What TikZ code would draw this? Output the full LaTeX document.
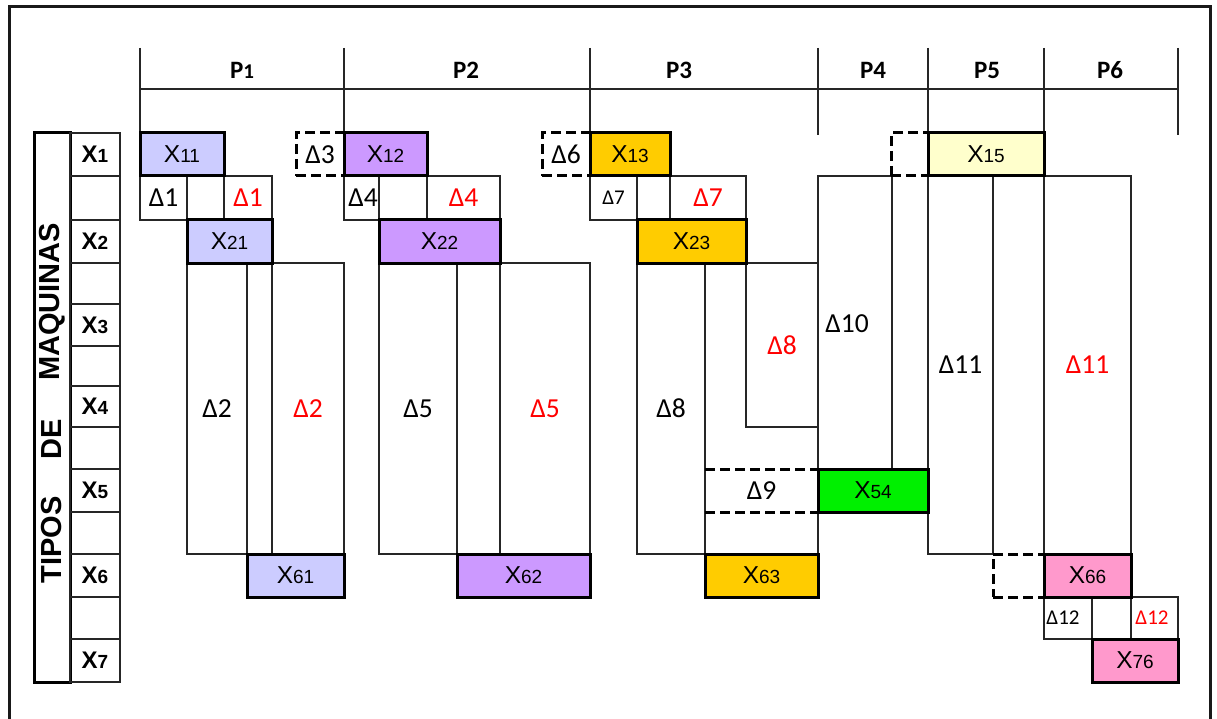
\documentclass[tikz,border=0pt]{standalone}
\usepackage{fontspec}
\setmainfont{Carlito}
\newfontfamily\arialfont{Liberation Sans}

\definecolor{jobA}{HTML}{CCCCFF}
\definecolor{jobB}{HTML}{CC99FF}
\definecolor{jobC}{HTML}{FFCC00}
\definecolor{jobD}{HTML}{00F000}
\definecolor{jobE}{HTML}{FFFFCC}
\definecolor{jobF}{HTML}{FF99CC}

% text faces
\newcommand{\dfnt}{\fontsize{27.5}{27.5}\selectfont}
\newcommand{\dfnts}{\fontsize{21}{21}\selectfont}
\newcommand{\pfnt}{\bfseries\fontsize{25}{25}\selectfont}
\newcommand{\tipfnt}{\arialfont\bfseries\fontsize{29}{29}\selectfont}
\newcommand{\jobtxt}[1]{{\arialfont\fontsize{24.5}{24.5}\selectfont X\fontsize{19}{19}\selectfont #1}}
\newcommand{\rowtxt}[1]{{\arialfont\bfseries\fontsize{24}{24}\selectfont X\fontsize{19}{19}\selectfont #1}}

% box from corner (x1,y1) to corner (x2,y2): style, name, x1, y1, x2, y2, text
\newcommand{\mkbox}[7]{%
  \pgfmathsetmacro\mkw{#5-#3}\pgfmathsetmacro\mkh{#6-#4}%
  \node[#1,anchor=north west,minimum width=\mkw pt,minimum height=\mkh pt] (#2) at (#3,#4) {#7};}

\tikzset{
  gridline/.style={draw=black!85, line width=1.2pt},
  cellbox/.style={draw=black!85, line width=1.2pt, inner sep=0pt, outer sep=0pt, font=\dfnt},
  jobbox/.style={draw=black, line width=3pt, inner sep=0pt, outer sep=0pt},
  gapbox/.style={draw=black, line width=3pt, dash pattern=on 10pt off 5pt, inner sep=0pt, outer sep=0pt, font=\dfnt},
  gapline/.style={draw=black, line width=3pt, dash pattern=on 10pt off 5pt},
  plain/.style={inner sep=0pt, outer sep=0pt, font=\dfnt},
  redtxt/.style={text=red}
}

\begin{document}
\begin{tikzpicture}[x=1pt,y=-1pt]
\useasboundingbox (0,0) rectangle (1217,719);
\fill[white] (0,0) rectangle (1217,719);

% frame
\draw[line width=3pt, draw=black!90] (9,730) -- (9,7) -- (1210,7) -- (1210,730);

% period header
\foreach \x/\yb in {140/133,344/133,590/133,818/135,928/133,1044/133,1178/135}
  \draw[gridline] (\x,48) -- (\x,\yb);
\draw[gridline] (140,89) -- (1178,89);
\node[font=\pfnt] (p1) at (242,70) {P{\fontsize{21}{21}\selectfont 1}};
\node[font=\pfnt] (p2) at (466,70) {P2};
\node[font=\pfnt] (p3) at (679,70) {P3};
\node[font=\pfnt] (p4) at (873,70) {P4};
\node[font=\pfnt] (p5) at (987,70) {P5};
\node[font=\pfnt] (p6) at (1110,70) {P6};

% machine types column
\mkbox{jobbox}{tipos}{34}{133}{70}{682}{}
\node[rotate=90, font=\tipfnt] (tw1) at (52,540) {TIPOS};
\node[rotate=90, font=\tipfnt] (tw2) at (52,439) {DE};
\node[rotate=90, font=\tipfnt] (tw3) at (52,302) {MAQUINAS};

\mkbox{cellbox}{m1}{70}{133}{120}{176}{\rowtxt{1}}
\mkbox{cellbox}{m1b}{70}{176}{120}{220}{}
\mkbox{cellbox}{m2}{70}{220}{120}{263}{\rowtxt{2}}
\mkbox{cellbox}{m2b}{70}{263}{120}{304}{}
\mkbox{cellbox}{m3}{70}{304}{120}{346}{\rowtxt{3}}
\mkbox{cellbox}{m3b}{70}{346}{120}{386}{}
\mkbox{cellbox}{m4}{70}{386}{120}{427}{\rowtxt{4}}
\mkbox{cellbox}{m4b}{70}{427}{120}{469}{}
\mkbox{cellbox}{m5}{70}{469}{120}{512}{\rowtxt{5}}
\mkbox{cellbox}{m5b}{70}{512}{120}{554}{}
\mkbox{cellbox}{m6}{70}{554}{120}{597}{\rowtxt{6}}
\mkbox{cellbox}{m6b}{70}{597}{120}{639}{}
\mkbox{cellbox}{m7}{70}{639}{120}{682}{\rowtxt{7}}

% lag cells, job 1
\mkbox{cellbox}{d1a}{140}{176}{187}{220}{Δ1}
\mkbox{cellbox,redtxt}{d1b}{224}{176}{272}{220}{Δ1}
\mkbox{cellbox}{d2a}{187}{263}{247}{554}{Δ2}
\mkbox{cellbox,redtxt}{d2b}{272}{263}{344}{554}{Δ2}
% job 2
\mkbox{cellbox}{d4a}{344}{176}{379}{220}{}
\node[plain] (d4t) at (363,198) {Δ4};
\mkbox{cellbox,redtxt}{d4b}{427}{176}{500}{220}{Δ4}
\mkbox{cellbox}{d5a}{379}{263}{457}{554}{Δ5}
\mkbox{cellbox,redtxt}{d5b}{500}{263}{590}{554}{Δ5}
% job 3
\mkbox{cellbox,font=\dfnts}{d7a}{590}{176}{637}{220}{Δ7}
\mkbox{cellbox,redtxt}{d7b}{670}{176}{746}{220}{Δ7}
\mkbox{cellbox}{d8a}{637}{263}{705}{554}{Δ8}
\mkbox{cellbox}{d8z}{705}{263}{818}{554}{}
\mkbox{cellbox,redtxt}{d8b}{746}{263}{818}{427}{Δ8}
\mkbox{plain}{d9}{705}{469}{818}{512}{Δ9}
\draw[gapline] (d9.north west) -- (d9.north east);
\draw[gapline] (d9.south west) -- (d9.south east);
% job 4
\mkbox{cellbox}{d10}{818}{176}{892}{469}{}
\node[plain] (d10t) at (847,324) {Δ10};
% job 5
\mkbox{cellbox}{d11a}{928}{176}{993}{554}{Δ11}
\mkbox{cellbox,redtxt}{d11b}{1044}{176}{1131}{554}{Δ11}
% job 6
\mkbox{cellbox,font=\dfnts}{d12a}{1044}{597}{1092}{639}{}
\node[plain,font=\dfnts] (d12t) at (1063,618) {Δ12};
\mkbox{cellbox,font=\dfnts,redtxt}{d12b}{1131}{597}{1178}{639}{}
\node[plain,font=\dfnts,redtxt] (d12u) at (1152,618) {Δ12};

% idle slots
\mkbox{gapbox}{g3}{296}{133}{344}{176}{Δ3}
\mkbox{gapbox}{g6}{542}{133}{590}{176}{Δ6}
\mkbox{gapbox}{g10}{891}{133}{928}{176}{}
\mkbox{gapbox}{g12}{993}{554}{1044}{597}{}

% operations
\mkbox{jobbox,fill=jobA}{x11}{140}{133}{224}{176}{\jobtxt{11}}
\mkbox{jobbox,fill=jobA}{x21}{187}{220}{272}{263}{\jobtxt{21}}
\mkbox{jobbox,fill=jobA}{x61}{247}{554}{344}{597}{\jobtxt{61}}
\mkbox{jobbox,fill=jobB}{x12}{344}{133}{427}{176}{\jobtxt{12}}
\mkbox{jobbox,fill=jobB}{x22}{379}{220}{500}{263}{\jobtxt{22}}
\mkbox{jobbox,fill=jobB}{x62}{457}{554}{590}{597}{\jobtxt{62}}
\mkbox{jobbox,fill=jobC}{x13}{590}{133}{670}{176}{\jobtxt{13}}
\mkbox{jobbox,fill=jobC}{x23}{637}{220}{746}{263}{\jobtxt{23}}
\mkbox{jobbox,fill=jobC}{x63}{705}{554}{818}{597}{\jobtxt{63}}
\mkbox{jobbox,fill=jobD}{x54}{818}{469}{928}{512}{\jobtxt{54}}
\mkbox{jobbox,fill=jobE}{x15}{928}{133}{1044}{176}{\jobtxt{15}}
\mkbox{jobbox,fill=jobF}{x66}{1044}{554}{1131}{597}{\jobtxt{66}}
\mkbox{jobbox,fill=jobF}{x76}{1092}{639}{1178}{682}{\jobtxt{76}}
\end{tikzpicture}
\end{document}
